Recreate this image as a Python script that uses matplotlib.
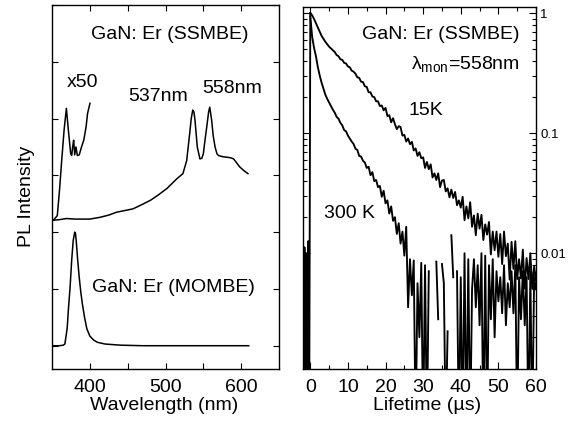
import numpy as np
import matplotlib
matplotlib.use("Agg")
import matplotlib.pyplot as plt
from matplotlib.ticker import FixedLocator, NullFormatter, LogLocator, FixedFormatter

plt.rcParams['font.family'] = ['Liberation Sans', 'DejaVu Sans']
plt.rcParams['mathtext.fontset'] = 'custom'
plt.rcParams['mathtext.rm'] = 'Liberation Sans'

# ---- left panel: PL spectra (arb. units, MOMBE baseline = 0) ----
wl_mombe = [351, 360, 365, 367, 370, 372, 374, 376, 378, 380, 381, 382, 384, 386,
            388, 390, 393, 396, 400, 405, 410, 420, 440, 470, 520, 580, 610]
pl_mombe = [0.0, 0.0, 0.01, 0.03, 0.3, 0.7, 1.05, 1.5, 1.85, 2.0, 1.98, 1.85, 1.5, 1.2,
            0.95, 0.75, 0.5, 0.3, 0.17, 0.1, 0.06, 0.03, 0.01, 0.0, 0.0, 0.0, 0.0]

wl_ss = [351, 360, 369, 380, 400, 413, 425, 435, 446, 457, 468, 480, 490, 502, 515,
         523, 528, 532, 534, 536, 537.5, 539, 542, 545.5, 548, 550, 552, 554.5, 557, 558.5,
         561, 563, 565.5, 568, 570, 575, 581, 586, 590, 594, 598, 603, 609]
pl_ss = [2.21, 2.22, 2.24, 2.23, 2.23, 2.26, 2.3, 2.35, 2.38, 2.41, 2.48, 2.56, 2.65, 2.77, 2.94,
         3.03, 3.26, 3.74, 4.0, 4.15, 4.12, 3.97, 3.5, 3.29, 3.3, 3.38, 3.6, 3.85, 4.12, 4.2,
         3.97, 3.7, 3.5, 3.38, 3.35, 3.33, 3.32, 3.31, 3.29, 3.22, 3.15, 3.09, 3.03]

wl_x50 = [351.8, 357, 360, 362.8, 366, 369, 371.6, 374.7, 376, 377.3, 378.6, 380, 381.7,
          383.5, 386, 389, 392, 395, 397, 400.2]
pl_x50 = [2.21, 2.29, 2.75, 3.26, 3.8, 4.18, 3.8, 3.38, 3.35, 3.5, 3.62, 3.36, 3.5,
          3.35, 3.36, 3.5, 3.62, 3.85, 4.09, 4.27]

# ---- right panel: PL decay, log10(normalised intensity), 0.5 us steps ----
t_decay = np.arange(0, 60.01, 0.5)
lg_15k = [0.00, -0.02, -0.05, -0.085, -0.12, -0.155, -0.19, -0.215, -0.24, -0.26,
          -0.28, -0.295, -0.31, -0.325, -0.35, -0.36, -0.385, -0.39, -0.415, -0.42,
          -0.445, -0.452, -0.48, -0.488, -0.505, -0.535, -0.54, -0.572, -0.575, -0.61,
          -0.615, -0.66, -0.66, -0.695, -0.70, -0.735, -0.735, -0.775, -0.77, -0.81,
          -0.79, -0.858, -0.851, -0.91, -0.876, -0.926, -0.967, -0.942, -0.95, -1.021,
          -1.014, -1.07, -1.045, -1.092, -1.073, -1.144, -1.128, -1.19, -1.159, -1.209,
          -1.202, -1.29, -1.24, -1.30, -1.26, -1.37, -1.335, -1.39, -1.335, -1.45,
          -1.395, -1.39, -1.485, -1.46, -1.535, -1.47, -1.54, -1.49, -1.60, -1.56,
          -1.62, -1.53, -1.725, -1.61, -1.71, -1.575, -1.78, -1.685, -1.85, -1.67,
          -1.795, -1.68, -1.89, -1.76, -1.845, -1.74, -2.01, -1.82, -1.975, -1.82,
          -2.03, -1.84, -2.09, -1.82, -2.025, -1.92, -2.22, -1.905, -2.13, -1.90,
          -2.215, -2.05, -2.21, -1.97, -2.295, -2.04, -2.215, -2.00, -2.295, -2.11,
          -2.225]
lg_300k = [-0.03, -0.20, -0.29, -0.36, -0.45, -0.52, -0.58, -0.63, -0.68, -0.715,
           -0.745, -0.775, -0.805, -0.83, -0.865, -0.88, -0.915, -0.935, -0.975, -0.985,
           -1.02, -1.045, -1.07, -1.09, -1.13, -1.14, -1.19, -1.195, -1.23, -1.245,
           -1.29, -1.28, -1.35, -1.325, -1.40, -1.39, -1.45, -1.44, -1.53, -1.48,
           -1.585, -1.56, -1.67, -1.61, -1.73, -1.70, -1.84, -1.75, -1.92, -1.82,
           -2.02, -1.78, -2.45, -2.05, -2.35, -2.06, -3.5, -2.25, -2.70, -2.08,
           -3.5, -2.10, -3.5, -2.15, np.nan, np.nan, np.nan, -2.07, -2.55, np.nan,
           -2.09, -2.25, -3.5, -2.65, np.nan, -1.85, -2.20, np.nan, -2.15, -3.5,
           -2.20, -3.5, -2.00, -3.5, -2.05, -3.5, -2.30, -2.05, -2.45, -2.10,
           -2.60, -2.00, -3.5, -2.02, -3.5, -2.10, -2.55, -2.05, -2.70, -2.15,
           -2.40, -2.20, -2.50, -2.10, -2.60, -2.25, -2.45, -2.15, -2.50, -2.10,
           -3.5, -2.20, -2.55, -2.15, -2.60, -2.20, -3.5, -2.15, -3.5, -2.20,
           -2.30]
# pre-trigger noise before the laser pulse
t_pre = [-1.8, -1.55, -1.3, -1.05, -0.8, -0.55, -0.3]
lg_pre = [-3.5, -1.95, -3.5, -2.0, -3.5, -1.9, -3.5]

fig = plt.figure(figsize=(5.68, 4.24), dpi=100)
ax1 = fig.add_axes([52/568, 1 - 369/424, 227/568, 364/424])
ax2 = fig.add_axes([303.3/568, 1 - 369/424, 232.7/568, 362/424])

lw = 1.1
fs = 14
ax1.plot(wl_mombe, pl_mombe, color="k", lw=lw)
ax1.plot(wl_ss, pl_ss, color="k", lw=lw)
ax1.plot(wl_x50, pl_x50, color="k", lw=lw)
ax1.set_xlim(350, 650)
ax1.set_ylim(-0.41, 6.0)
ax1.xaxis.set_major_locator(FixedLocator([400, 500, 600]))
ax1.xaxis.set_minor_locator(FixedLocator([450, 550]))
ax1.yaxis.set_major_locator(FixedLocator([0, 1, 2, 3, 4, 5, 6]))
ax1.yaxis.set_major_formatter(NullFormatter())
ax1.tick_params(which="both", direction="in", top=True, right=True, length=4, width=0.8,
                labelsize=fs)
ax1.tick_params(axis="x", pad=7)
ax1.set_xlabel("Wavelength (nm)", fontsize=fs)
ax1.set_ylabel("PL Intensity", fontsize=fs)
ax1.xaxis.set_label_coords(0.493, -0.077)
ax1.yaxis.set_label_coords(-0.075, 0.473)

ax1.text(0.52, 0.92, "GaN: Er (SSMBE)", transform=ax1.transAxes, ha="center", va="center", fontsize=fs)
ax1.text(391, 4.64, "x50", ha="center", va="center", fontsize=fs)
ax1.text(490, 4.39, "537nm", ha="center", va="center", fontsize=fs)
ax1.text(588, 4.53, "558nm", ha="center", va="center", fontsize=fs)
ax1.text(0.535, 0.225, "GaN: Er (MOMBE)", transform=ax1.transAxes, ha="center", va="center", fontsize=fs)

lw_d = 1.35
ax2.plot(t_pre + [0.0], [10**v for v in lg_pre] + [1.0], color="k", lw=lw_d)
ax2.plot(t_decay, 10**np.array(lg_15k), color="k", lw=lw_d)
ax2.plot(t_decay, 10**np.array(lg_300k), color="k", lw=lw_d)
ax2.set_yscale("log")
ax2.set_xlim(-1.86, 60)
ax2.set_ylim(10**-2.964, 10**0.05)
ax2.xaxis.set_major_locator(FixedLocator([0, 10, 20, 30, 40, 50, 60]))
ax2.xaxis.set_minor_locator(FixedLocator([5, 15, 25, 35, 45, 55]))
ax2.yaxis.set_major_locator(FixedLocator([0.01, 0.1, 1]))
ax2.yaxis.set_major_formatter(FixedFormatter(["0.01", "0.1", "1"]))
ax2.yaxis.set_minor_locator(LogLocator(base=10, subs=np.arange(2, 10)))
ax2.yaxis.set_minor_formatter(NullFormatter())
ax2.tick_params(which="both", direction="in", top=True, right=True, left=True,
                labelleft=False, labelright=True, width=0.8)
ax2.tick_params(which="major", length=5)
ax2.tick_params(which="minor", length=3)
ax2.tick_params(axis="x", labelsize=fs, pad=7)
ax2.tick_params(axis="y", labelsize=9.5, pad=3)
ax2.set_xlabel("Lifetime (\u00b5s)", fontsize=fs)
ax2.xaxis.set_label_coords(0.53, -0.077)

ax2.text(0.931, 0.925, "GaN: Er (SSMBE)", transform=ax2.transAxes, ha="right", va="center", fontsize=fs)
ax2.text(0.931, 0.84, "\u03bb$_{\\mathrm{mon}}$=558nm", transform=ax2.transAxes, ha="right",
         va="center", fontsize=fs)
ax2.text(0.525, 0.715, "15K", transform=ax2.transAxes, ha="center", va="center", fontsize=fs)
ax2.text(0.2, 0.43, "300 K", transform=ax2.transAxes, ha="center", va="center", fontsize=fs)

for ax in (ax1, ax2):
    for s in ax.spines.values():
        s.set_linewidth(1.0)

fig.savefig("out.png", dpi=100)
